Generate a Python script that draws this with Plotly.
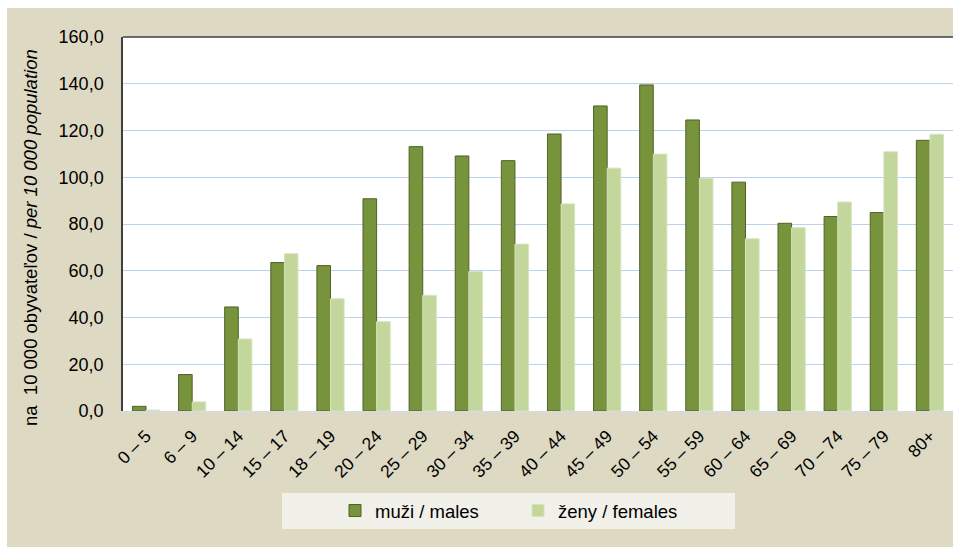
import plotly.graph_objects as go

categories = ["0 – 5", "6 – 9", "10 – 14", "15 – 17", "18 – 19", "20 – 24", "25 – 29",
              "30 – 34", "35 – 39", "40 – 44", "45 – 49", "50 – 54", "55 – 59",
              "60 – 64", "65 – 69", "70 – 74", "75 – 79", "80+"]
males = [2.0, 15.6, 44.5, 63.5, 62.2, 90.8, 113.1, 109.1, 107.1, 118.5, 130.5, 139.5,
         124.5, 97.9, 80.3, 83.2, 84.9, 115.8]
females = [0.4, 3.9, 30.8, 67.3, 48.0, 38.2, 49.5, 59.7, 71.4, 88.6, 103.9, 109.9,
           99.6, 73.7, 78.4, 89.4, 110.9, 118.4]
y_ticks = [0, 20, 40, 60, 80, 100, 120, 140, 160]

W, H = 953, 547
L, R, T, B = 123, 0, 37, 136
pw, ph = W - L - R, H - T - B

def px_x(p):
    return (p - L) / pw

def px_y(p):
    return (H - B - p) / ph

FONT = "Liberation Sans, Arial, sans-serif"
BEIGE = "#DDD9C3"

fig = go.Figure()
fig.add_trace(go.Bar(
    x=categories, y=males, name="muži / males",
    marker=dict(color="#77933C", line=dict(color="#4F6228", width=1)),
))
fig.add_trace(go.Bar(
    x=categories, y=females, name="ženy / females",
    marker=dict(color="#C3D69B", line=dict(color="#D7E4BD", width=1)),
))

shapes = [
    # white top strip
    dict(type="rect", xref="paper", yref="paper", layer="below",
         x0=px_x(-5), x1=px_x(W + 5), y0=px_y(8), y1=px_y(-5),
         fillcolor="white", line=dict(width=0)),
    # white left strip
    dict(type="rect", xref="paper", yref="paper", layer="below",
         x0=px_x(-5), x1=px_x(7), y0=px_y(H + 5), y1=px_y(-5),
         fillcolor="white", line=dict(width=0)),
    # white plot area
    dict(type="rect", xref="paper", yref="paper", layer="below",
         x0=0, x1=1, y0=0, y1=1, fillcolor="white", line=dict(width=0)),
    # legend box
    dict(type="rect", xref="paper", yref="paper", layer="below",
         x0=px_x(282), x1=px_x(735), y0=px_y(529), y1=px_y(493),
         fillcolor="#F1F0E9", line=dict(width=0)),
    # top border
    dict(type="line", xref="paper", yref="paper", layer="above",
         x0=0, x1=1, y0=1, y1=1, line=dict(color="#404040", width=1.5)),
]

fig.update_layout(
    width=W, height=H,
    margin=dict(l=L, r=R, t=T, b=B, pad=0),
    paper_bgcolor=BEIGE,
    plot_bgcolor="white",
    barmode="group",
    bargap=0.41,
    bargroupgap=0,
    separators=", ",
    font=dict(family=FONT, size=18, color="#000000"),
    shapes=shapes,
    showlegend=True,
    legend=dict(
        orientation="h",
        x=px_x(335), xanchor="left",
        y=px_y(511), yanchor="middle",
        bgcolor="rgba(0,0,0,0)",
        font=dict(family=FONT, size=18.5, color="#000000"),
        entrywidth=138, entrywidthmode="pixels",
        itemclick=False,
    ),
    annotations=[
        dict(
            text="na  10 000 obyvateľov / <i>per 10 000 population</i>",
            xref="paper", yref="paper",
            x=px_x(31), y=px_y(238),
            xanchor="center", yanchor="middle",
            textangle=-90, showarrow=False,
            font=dict(family=FONT, size=18.5, color="#000000"),
        )
    ],
)

fig.update_yaxes(
    range=[0, 160],
    tickvals=y_ticks,
    tickformat=".1f",
    showgrid=True, gridcolor="#B9D3EE", gridwidth=1,
    zeroline=False,
    showline=True, linecolor="#404040", linewidth=1.5,
    ticks="", ticklabelstandoff=14,
    tickfont=dict(family=FONT, size=18, color="#000000"),
)
fig.update_xaxes(
    tickangle=-45,
    showline=True, linecolor="#D9D9D9", linewidth=2,
    showgrid=False, zeroline=False,
    ticks="", ticklabelstandoff=6,
    tickfont=dict(family=FONT, size=17.5, color="#000000"),
)

fig.write_html(
    "out.html",
    config={"displayModeBar": False},
    post_script=(
        "document.body.style.margin='0';"
        "document.body.style.overflow='hidden';"
        "document.body.style.background='" + BEIGE + "';"
    ),
)
